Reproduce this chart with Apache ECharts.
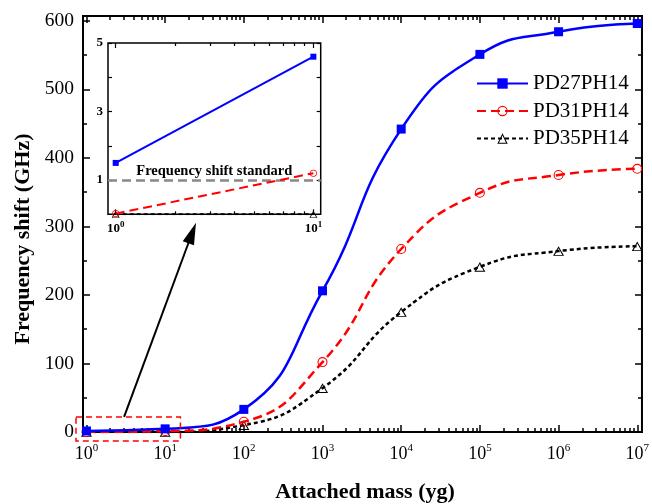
<!DOCTYPE html>
<html>
<head>
<meta charset="utf-8">
<script src="https://cdn.jsdelivr.net/npm/echarts@6/dist/echarts.min.js"></script>
<style>
  html, body { margin: 0; padding: 0; background: #fff; }
  #chart { width: 652px; height: 504px; }
</style>
</head>
<body>
<div id="chart"></div>
<script>
// Attached mass, as powers of ten (yg): 10^0 ... 10^7
const massExponents = [0, 1, 2, 3, 4, 5, 6, 7];
const seriesNames = ['PD27PH14', 'PD31PH14', 'PD35PH14'];
// Frequency shift (GHz) for each device
const shiftPD27 = [1.5, 4.6, 33, 206, 442, 551, 584, 596];
const shiftPD31 = [0.02, 1.2, 15, 102, 267, 349, 375, 384];
const shiftPD35 = [0, 0, 10, 64, 175, 241, 264, 271];
// Tick values
const yTicks = [0, 100, 200, 300, 400, 500, 600];
const yMinorTicks = [50, 150, 250, 350, 450, 550];
const insetExponents = [0, 1];
const insetYTicks = [1, 2, 3, 4, 5];
const insetYLabels = [1, 3, 5];
// Threshold drawn in the magnified view (GHz)
const standardShift = 1;
const standardLabel = 'Frequency shift standard';

const FONT = 'Liberation Serif';

// log-decade minor tick positions (2..9 x 10^n)
function minorLogTicks(fromExp, toExp) {
  const out = [];
  for (let n = fromExp; n < toExp; n++) {
    for (let k = 2; k <= 9; k++) out.push(n + Math.log10(k));
  }
  return out;
}

const ringCircle = 'path://M12,0A12,12,0,0,1,12,24A12,12,0,0,1,12,0ZM12,2.6A9.4,9.4,0,0,0,12,21.4A9.4,9.4,0,0,0,12,2.6Z';
const ringTriangle = 'path://M12,0L24,21L0,21ZM12,4.4L3.8,19L20.2,19Z';

const styles = [
  { color: '#0000ff', symbol: 'rect', size: 9, insetSize: 6, line: { width: 2.5, type: 'solid' } },
  { color: '#ff0000', symbol: ringCircle, size: 10, insetSize: 7, line: { width: 2.5, type: [9, 5] } },
  { color: '#000000', symbol: ringTriangle, size: [11, 9.6], insetSize: [8, 7], line: { width: 2.5, type: [4, 3] } }
];
const shifts = [shiftPD27, shiftPD31, shiftPD35];

function tickAxis(base, opts) {
  return Object.assign({
    type: 'value',
    axisLine: { show: false, onZero: false },
    splitLine: { show: false },
    axisLabel: { show: false },
    axisTick: { show: true, inside: true, length: 7, lineStyle: { color: '#000', width: 1.5 } }
  }, base, opts);
}

const supRich = (big, small, bold) => ({
  b: { fontFamily: FONT, fontSize: big, lineHeight: big + 4, color: '#000', fontWeight: bold ? 'bold' : 'normal' },
  s: { fontFamily: FONT, fontSize: small, lineHeight: small, verticalAlign: 'top', color: '#000', fontWeight: bold ? 'bold' : 'normal' }
});

const mainX = { gridIndex: 0, min: -0.044, max: 7.06 };
const mainY = { gridIndex: 0, min: 0, max: 607 };
const insetX = { gridIndex: 1, min: -0.039, max: 1.037 };
const insetY = { gridIndex: 1, min: 0, max: 5 };

const xMinor = minorLogTicks(0, 7);
const xInsetMinor = minorLogTicks(0, 1);

const xAxis = [
  // main chart, bottom: decades with labels
  tickAxis(mainX, {
    position: 'bottom',
    axisTick: { show: true, inside: true, length: 7, customValues: massExponents, lineStyle: { color: '#000', width: 1.5 } },
    axisLabel: {
      show: true, customValues: massExponents, margin: 11,
      formatter: v => '{b|10}{s|' + v + '}', rich: supRich(18, 11, false)
    }
  }),
  tickAxis(mainX, { position: 'bottom', axisTick: { show: true, inside: true, length: 4, customValues: xMinor, lineStyle: { color: '#000', width: 1.5 } } }),
  tickAxis(mainX, { position: 'top', axisTick: { show: true, inside: true, length: 7, customValues: massExponents, lineStyle: { color: '#000', width: 1.5 } } }),
  tickAxis(mainX, { position: 'top', axisTick: { show: true, inside: true, length: 4, customValues: xMinor, lineStyle: { color: '#000', width: 1.5 } } }),
  // magnified view
  tickAxis(insetX, {
    position: 'bottom',
    axisTick: { show: true, inside: true, length: 5, customValues: insetExponents, lineStyle: { color: '#000', width: 1.2 } },
    axisLabel: {
      show: true, customValues: insetExponents, margin: 6,
      formatter: v => '{b|10}{s|' + v + '}', rich: supRich(13, 9, true)
    }
  }),
  tickAxis(insetX, { position: 'bottom', axisTick: { show: true, inside: true, length: 3, customValues: xInsetMinor, lineStyle: { color: '#000', width: 1.2 } } }),
  tickAxis(insetX, { position: 'top', axisTick: { show: true, inside: true, length: 5, customValues: insetExponents, lineStyle: { color: '#000', width: 1.2 } } }),
  tickAxis(insetX, { position: 'top', axisTick: { show: true, inside: true, length: 3, customValues: xInsetMinor, lineStyle: { color: '#000', width: 1.2 } } })
];

const yAxis = [
  tickAxis(mainY, {
    position: 'left',
    axisTick: { show: true, inside: true, length: 7, customValues: yTicks, lineStyle: { color: '#000', width: 1.5 } },
    axisLabel: { show: true, customValues: yTicks, margin: 9, fontFamily: FONT, fontSize: 19.5, color: '#000' }
  }),
  tickAxis(mainY, { position: 'left', axisTick: { show: true, inside: true, length: 4, customValues: yMinorTicks, lineStyle: { color: '#000', width: 1.5 } } }),
  tickAxis(mainY, { position: 'right', axisTick: { show: true, inside: true, length: 7, customValues: yTicks, lineStyle: { color: '#000', width: 1.5 } } }),
  tickAxis(mainY, { position: 'right', axisTick: { show: true, inside: true, length: 4, customValues: yMinorTicks, lineStyle: { color: '#000', width: 1.5 } } }),
  tickAxis(insetY, {
    position: 'left',
    axisTick: { show: true, inside: true, length: 4, customValues: insetYTicks, lineStyle: { color: '#000', width: 1.2 } },
    axisLabel: { show: true, customValues: insetYLabels, margin: 5, fontFamily: FONT, fontSize: 13, fontWeight: 'bold', color: '#000' }
  }),
  tickAxis(insetY, { position: 'right', axisTick: { show: true, inside: true, length: 4, customValues: insetYTicks, lineStyle: { color: '#000', width: 1.2 } } })
];

const series = [];
seriesNames.forEach((name, i) => {
  const st = styles[i];
  series.push({
    name: name,
    type: 'line',
    xAxisIndex: 0, yAxisIndex: 0,
    data: massExponents.map((e, j) => [e, shifts[i][j]]),
    smooth: 0.5,
    symbol: st.symbol,
    symbolSize: st.size,
    showAllSymbol: true,
    lineStyle: { color: st.color, width: st.line.width, type: st.line.type },
    itemStyle: { color: st.color, borderWidth: 0 },
    z: 5 - i
  });
});
seriesNames.forEach((name, i) => {
  const st = styles[i];
  const s = {
    name: name + ' (detail)',
    type: 'line',
    xAxisIndex: 4, yAxisIndex: 4,
    data: insetExponents.map((e, j) => [e, shifts[i][j]]),
    symbol: st.symbol,
    symbolSize: st.insetSize,
    clip: true,
    lineStyle: { color: st.color, width: 2, type: st.line.type },
    itemStyle: { color: st.color, borderWidth: 0 },
    z: 10 - i
  };
  if (i === 0) {
    s.markLine = {
      silent: true,
      symbol: 'none',
      lineStyle: { color: '#888', width: 2.5, type: [9, 5] },
      label: {
        show: true, position: 'insideMiddleTop', distance: 1,
        formatter: standardLabel,
        fontFamily: FONT, fontSize: 14.5, fontWeight: 'bold', color: '#000'
      },
      data: [{ yAxis: standardShift }]
    };
  }
  series.push(s);
});

const chart = echarts.init(document.getElementById('chart'), null, { renderer: 'canvas' });
chart.setOption({
  animation: false,
  backgroundColor: '#fff',
  grid: [
    { left: 83, top: 16, right: 7, bottom: 72, show: true, borderColor: '#000', borderWidth: 2, backgroundColor: 'transparent', containLabel: false },
    { left: 108, top: 43, right: 331.3, bottom: 289.7, show: true, borderColor: '#000', borderWidth: 1.5, backgroundColor: '#fff', containLabel: false }
  ],
  xAxis: xAxis,
  yAxis: yAxis,
  legend: {
    data: seriesNames,
    orient: 'vertical',
    left: 476, top: 73,
    padding: 0,
    itemWidth: 51, itemHeight: 13, itemGap: 6.5,
    selectedMode: false,
    textStyle: { fontFamily: FONT, fontSize: 21, lineHeight: 21, color: '#000' }
  },
  series: series
});

// annotations: highlight box around the 10^0..10^1 range and an arrow to the magnified view
const zoomBoxX = [-0.133, 1.194];
const zoomBoxY = [-13, 22];
const arrowFrom = [0.478, 22];
const arrowTo = [1.392, 305.5];
const toPx = p => chart.convertToPixel({ xAxisIndex: 0, yAxisIndex: 0 }, p);

const b0 = toPx([zoomBoxX[0], zoomBoxY[1]]);
const b1 = toPx([zoomBoxX[1], zoomBoxY[0]]);
const a0 = toPx(arrowFrom);
const a1 = toPx(arrowTo);
const dx = a1[0] - a0[0], dy = a1[1] - a0[1];
const len = Math.hypot(dx, dy);
const ux = dx / len, uy = dy / len;
const headLen = 22, headHalf = 6;
const base = [a1[0] - ux * headLen, a1[1] - uy * headLen];

chart.setOption({
  graphic: [
    {
      type: 'rect', silent: true, z: 20,
      shape: { x: b0[0], y: b0[1], width: b1[0] - b0[0], height: b1[1] - b0[1] },
      style: { fill: 'none', stroke: '#ff0000', lineWidth: 1.5, lineDash: [6, 4] }
    },
    {
      type: 'line', silent: true, z: 20,
      shape: { x1: a0[0], y1: a0[1], x2: base[0] + ux * 4, y2: base[1] + uy * 4 },
      style: { stroke: '#000', lineWidth: 2 }
    },
    {
      type: 'polygon', silent: true, z: 20,
      shape: { points: [a1, [base[0] - uy * headHalf, base[1] + ux * headHalf], [base[0] + uy * headHalf, base[1] - ux * headHalf]] },
      style: { fill: '#000' }
    },
    {
      type: 'text', silent: true, z: 20,
      x: 23, y: 239, rotation: Math.PI / 2,
      style: { text: 'Frequency shift (GHz)', fontFamily: FONT, fontSize: 22, fontWeight: 'bold', fill: '#000', align: 'center', verticalAlign: 'middle' }
    },
    {
      type: 'text', silent: true, z: 20,
      x: 365, y: 492,
      style: { text: 'Attached mass (yg)', fontFamily: FONT, fontSize: 22, fontWeight: 'bold', fill: '#000', align: 'center', verticalAlign: 'middle' }
    }
  ]
});
</script>
</body>
</html>
